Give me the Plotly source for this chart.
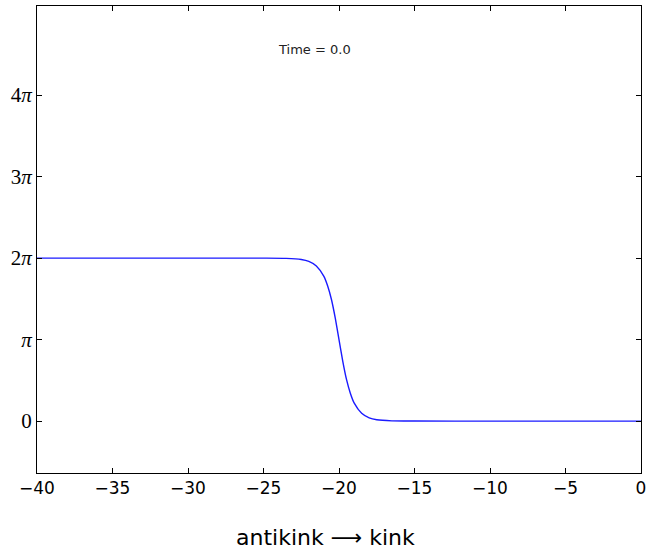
import plotly.graph_objects as go
import math

# Field profile phi(x)
x_vals = [-40, -30, -25, -23.5, -22.5, -22, -21.5, -21, -20.75, -20.5, -20.25,
          -20, -19.75, -19.5, -19.25, -19, -18.5, -18, -17.5, -16.5, -15, -10, 0]
phi_vals = [6.283, 6.283, 6.282, 6.273, 6.23, 6.156, 5.98, 5.578, 5.206, 4.686, 3.979,
            3.142, 2.304, 1.597, 1.077, 0.705, 0.303, 0.127, 0.053, 0.01, 0.002, 0.0, 0.0]

x_ticks = [-40, -35, -30, -25, -20, -15, -10, -5, 0]
x_tick_text = ["\u221240", "\u221235", "\u221230", "\u221225", "\u221220", "\u221215", "\u221210", "\u22125", "0"]
y_tick_mult = [0, 1, 2, 3, 4]
y_tick_text = ["0", "<i>\u03c0</i>", "2<i>\u03c0</i>", "3<i>\u03c0</i>", "4<i>\u03c0</i>"]

time_label = "Time = 0.0"
x_title = "antikink \u27f6 kink"

fig = go.Figure()
fig.add_trace(go.Scatter(x=x_vals, y=phi_vals, mode="lines",
                         line=dict(color="#1a1aff", width=1.4, shape="spline", smoothing=0.6),
                         showlegend=False, hoverinfo="skip"))

fig.add_annotation(x=-24.2, y=14.33, xref="x", yref="y", text=time_label, showarrow=False,
                   xanchor="left", yanchor="middle",
                   font=dict(family="DejaVu Sans", size=13, color="#222222"))
fig.add_annotation(x=0.477, y=-0.138, xref="paper", yref="paper", text=x_title, showarrow=False,
                   xanchor="center", yanchor="middle",
                   font=dict(family="DejaVu Sans", size=22, color="black"))

fig.update_xaxes(range=[-40, 0], tickvals=x_ticks, ticktext=x_tick_text, automargin=False,
                 ticks="inside", ticklen=5, tickcolor="black", mirror="allticks",
                 showline=True, linecolor="black", linewidth=1, showgrid=False, zeroline=False,
                 tickfont=dict(family="DejaVu Sans", size=17, color="black"))
fig.update_yaxes(range=[-2, 16], tickvals=[m * math.pi for m in y_tick_mult], ticktext=y_tick_text,
                 automargin=False,
                 ticks="inside", ticklen=5, tickcolor="black", mirror="allticks",
                 showline=True, linecolor="black", linewidth=1, showgrid=False, zeroline=False,
                 tickfont=dict(family="Liberation Serif", size=21, color="black"))

fig.update_layout(width=648, height=549, margin=dict(l=37, r=7, t=6, b=76),
                  plot_bgcolor="white", paper_bgcolor="white")

fig.write_html("out.html")
